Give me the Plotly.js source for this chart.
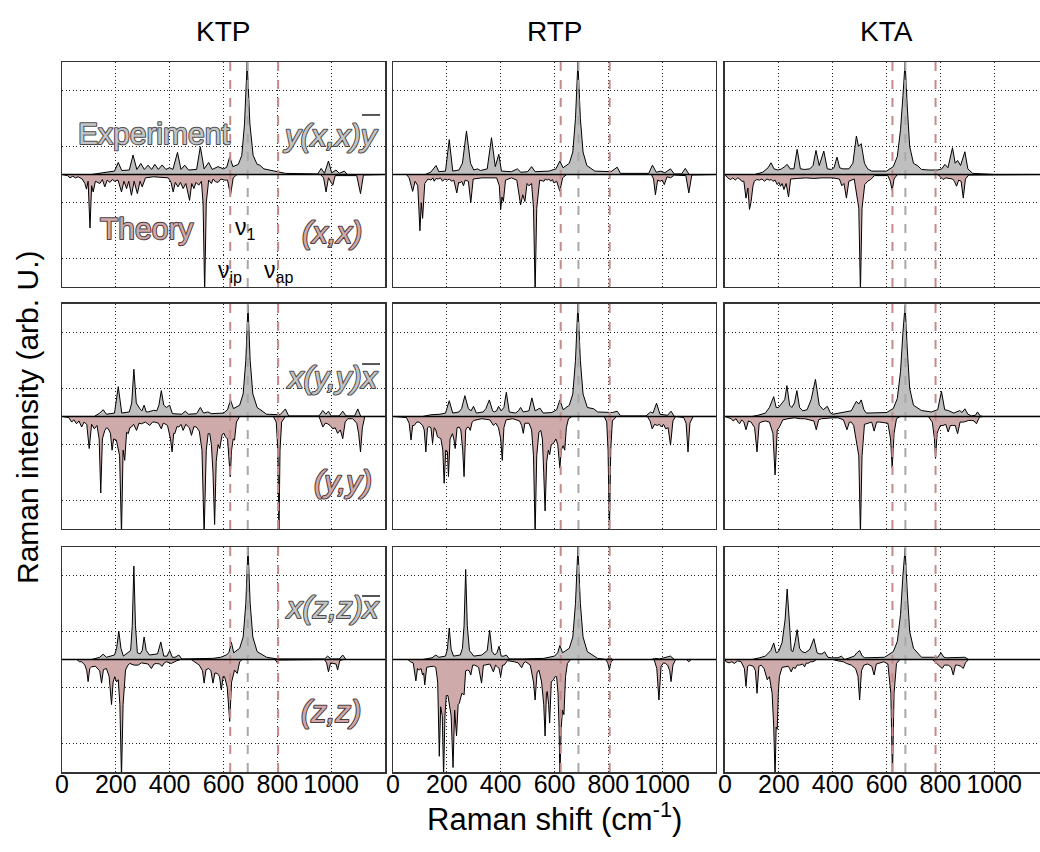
<!DOCTYPE html>
<html>
<head>
<meta charset="utf-8">
<script src="https://cdn.plot.ly/plotly-3.0.1.min.js"></script>
<style>html,body{margin:0;padding:0;background:#fff;}#chart{width:1040px;height:852px;}</style>
</head>
<body>
<div id="chart"></div>
<script>
// ---------------- DATA ----------------
// Spectra as vertex lists: x (Raman shift, cm^-1), y (normalised intensity)
// Experiment is positive, theory is plotted negative.
const MATERIALS = ['KTP', 'RTP', 'KTA'];
const EXP_LABELS = ['y(x,x)y', 'x(y,y)x', 'x(z,z)x'];
const TH_LABELS = ['(x,x)', '(y,y)', '(z,z)'];
const X_TICKS = [0, 200, 400, 600, 800, 1000];
const Y_GRID = [-0.75, -0.25, 0.25, 0.75];
// Mode markers: [nu_ip, nu_1, nu_ap] per material
const NU_KTP = [625, 690, 803];
const NU_RTP = [623, 689, 805];
const NU_KTA = [622, 670, 782];

const KTP_XX_EXP = [0,0, 110,0, 150,0.015, 195,0.03, 209,0.107, 222,0.035, 250,0.04, 264,0.173, 278,0.045, 293,0.098, 306,0.045, 320,0.083, 333,0.045, 345,0.09, 358,0.045, 372,0.085, 386,0.045, 400,0.06, 412,0.045, 429,0.196, 442,0.045, 456,0.083, 470,0.04, 500,0.045, 514,0.247, 528,0.05, 545,0.107, 558,0.045, 580,0.07, 600,0.05, 612,0.065, 623,0.158, 635,0.07, 655,0.09, 668,0.17, 678,0.45, 688,1.0, 698,0.45, 710,0.17, 725,0.09, 735,0.083, 750,0.05, 800,0.025, 830,0.01, 950,0.005, 963,0.054, 975,0.01, 990,0.12, 1002,0.015, 1018,0.04, 1030,0.01, 1049,0.03, 1060,0, 1200,0];
const KTP_XX_TH = [0,0, 20,-0.01, 30,-0.03, 40,-0.015, 50,-0.03, 60,-0.02, 75,-0.04, 85,-0.08, 91,-0.13, 97,-0.06, 104,-0.476, 110,-0.1, 116,-0.155, 124,-0.06, 141,-0.08, 150,-0.045, 159,-0.11, 168,-0.05, 178,-0.07, 187,-0.045, 196,-0.06, 208,-0.05, 221,-0.155, 230,-0.06, 240,-0.125, 248,-0.06, 258,-0.185, 268,-0.06, 280,-0.17, 290,-0.06, 298,-0.11, 310,-0.03, 340,-0.02, 395,-0.03, 405,-0.07, 413,-0.155, 421,-0.07, 431,-0.11, 440,-0.07, 450,-0.125, 460,-0.08, 474,-0.23, 482,-0.08, 490,-0.125, 498,-0.07, 508,-0.095, 518,-0.06, 524,-0.25, 530,-1.05, 536,-0.25, 545,-0.05, 555,-0.08, 562,-0.04, 570,-0.065, 580,-0.07, 590,-0.04, 604,-0.05, 615,-0.05, 626,-0.185, 636,-0.03, 650,0, 960,0, 972,-0.03, 981,-0.155, 990,-0.03, 1006,-0.095, 1015,-0.01, 1095,-0.01, 1109,-0.17, 1120,-0.005, 1200,0];

const RTP_XX_EXP = [0,0, 120,0, 140,0.02, 160,0.08, 170,0.025, 195,0.03, 209,0.31, 222,0.03, 245,0.04, 258,0.1, 273,0.387, 288,0.1, 300,0.04, 314,0.05, 325,0.035, 350,0.05, 366,0.327, 380,0.07, 393,0.18, 403,0.03, 440,0.025, 462,0.05, 475,0.02, 500,0.025, 515,0.07, 528,0.025, 580,0.03, 605,0.05, 620,0.12, 632,0.06, 655,0.1, 668,0.2, 678,0.5, 687,1.0, 696,0.5, 706,0.2, 720,0.08, 750,0.03, 810,0.025, 833,0.065, 845,0.01, 950,0.01, 964,0.083, 978,0.02, 995,0.03, 1010,0.015, 1031,0.05, 1045,0.005, 1072,0.005, 1086,0.054, 1100,0, 1200,0];
const RTP_XX_TH = [0,0, 50,0, 60,-0.03, 73,-0.15, 82,-0.06, 92,-0.1, 100,-0.5, 105,-0.25, 110,-0.39, 118,-0.08, 130,-0.04, 141,-0.05, 148,-0.03, 153,-0.06, 160,-0.035, 168,-0.04, 176,-0.03, 184,-0.06, 192,-0.04, 202,-0.05, 210,-0.04, 217,-0.06, 226,-0.05, 237,-0.164, 244,-0.07, 249,-0.075, 255,-0.06, 262,-0.1, 268,-0.05, 280,-0.06, 289,-0.25, 298,-0.04, 330,-0.03, 385,-0.03, 395,-0.1, 400,-0.31, 405,-0.2, 410,-0.24, 418,-0.05, 440,-0.03, 460,-0.05, 474,-0.27, 482,-0.18, 490,-0.24, 498,-0.08, 505,-0.1, 515,-0.08, 522,-0.3, 528,-1.05, 534,-0.3, 545,-0.05, 561,-0.06, 566,-0.04, 573,-0.05, 579,-0.04, 586,-0.06, 592,-0.045, 598,-0.075, 608,-0.06, 620,-0.15, 630,-0.03, 645,0, 960,0, 968,-0.04, 975,-0.18, 983,-0.05, 993,-0.06, 1000,-0.05, 1008,-0.09, 1018,-0.02, 1031,-0.03, 1045,-0.005, 1088,-0.01, 1099,-0.164, 1110,-0.005, 1200,0];

const KTA_XX_EXP = [0,0, 110,0, 140,0.02, 160,0.06, 171,0.104, 182,0.05, 196,0.04, 210,0.05, 222,0.07, 231,0.09, 242,0.05, 256,0.05, 268,0.223, 280,0.05, 296,0.045, 315,0.05, 327,0.08, 338,0.214, 350,0.08, 367,0.208, 380,0.05, 395,0.045, 405,0.06, 416,0.155, 426,0.06, 438,0.05, 460,0.05, 475,0.1, 488,0.342, 496,0.25, 506,0.274, 518,0.1, 530,0.05, 545,0.03, 600,0.03, 625,0.07, 640,0.16, 652,0.4, 661,0.7, 669,1.0, 677,0.6, 686,0.25, 700,0.1, 717,0.075, 730,0.045, 755,0.04, 790,0.04, 805,0.05, 817,0.09, 828,0.06, 845,0.238, 855,0.1, 864,0.125, 875,0.08, 891,0.202, 902,0.05, 920,0.01, 960,0.005, 1000,0, 1200,0];
const KTA_XX_TH = [0,0, 10,-0.03, 20,-0.045, 29,-0.03, 38,-0.05, 47,-0.03, 55,-0.04, 62,-0.06, 70,-0.06, 78,-0.21, 85,-0.12, 91,-0.31, 97,-0.24, 104,-0.1, 109,-0.06, 118,-0.045, 128,-0.05, 137,-0.04, 147,-0.06, 156,-0.04, 165,-0.05, 172,-0.045, 178,-0.06, 186,-0.05, 194,-0.09, 200,-0.07, 206,-0.105, 212,-0.08, 219,-0.134, 227,-0.08, 236,-0.2, 244,-0.04, 270,-0.035, 300,-0.03, 330,-0.035, 360,-0.03, 400,-0.03, 425,-0.04, 434,-0.1, 442,-0.08, 451,-0.21, 460,-0.06, 480,-0.04, 497,-0.3, 503,-1.05, 509,-0.3, 519,-0.09, 530,-0.06, 541,-0.045, 555,-0.01, 605,-0.01, 614,-0.06, 621,-0.143, 628,-0.04, 640,0, 790,0, 800,-0.02, 810,-0.045, 820,-0.03, 829,-0.035, 845,-0.04, 852,-0.06, 860,-0.104, 868,-0.05, 877,-0.06, 885,-0.21, 893,-0.04, 905,-0.005, 1200,0];

const KTP_YY_EXP = [0,0, 120,0, 140,0.03, 153,0.06, 165,0.02, 195,0.03, 209,0.265, 222,0.03, 250,0.04, 259,0.12, 267,0.42, 276,0.12, 289,0.07, 297,0.05, 305,0.1, 313,0.04, 320,0.04, 332,0.05, 341,0.055, 352,0.05, 360,0.1, 369,0.23, 378,0.1, 388,0.08, 400,0.1, 410,0.025, 445,0.02, 458,0.047, 470,0.02, 500,0.025, 514,0.08, 526,0.03, 542,0.04, 555,0.025, 600,0.03, 615,0.06, 626,0.147, 637,0.07, 660,0.1, 673,0.2, 683,0.5, 691,0.99, 699,0.5, 709,0.2, 725,0.08, 760,0.02, 810,0.015, 830,0.067, 842,0.005, 955,0.005, 969,0.053, 980,0.02, 990,0.047, 1000,0.005, 1030,0.005, 1043,0.047, 1055,0.005, 1087,0.005, 1099,0.067, 1110,0, 1200,0];
const KTP_YY_TH = [0,0, 25,-0.01, 36,-0.05, 44,-0.03, 54,-0.065, 63,-0.04, 73,-0.094, 82,-0.05, 92,-0.07, 101,-0.285, 110,-0.07, 120,-0.11, 130,-0.08, 138,-0.2, 144,-0.68, 150,-0.2, 159,-0.124, 166,-0.1, 172,-0.11, 180,-0.15, 186,-0.3, 192,-0.2, 202,-0.21, 214,-0.35, 221,-1.05, 227,-0.3, 233,-0.39, 240,-0.14, 246,-0.153, 252,-0.1, 258,-0.094, 266,-0.07, 277,-0.124, 286,-0.06, 295,-0.065, 310,-0.05, 326,-0.08, 336,-0.05, 345,-0.05, 358,-0.06, 369,-0.11, 376,-0.06, 382,-0.065, 392,-0.08, 403,-0.2, 409,-0.315, 415,-0.15, 419,-0.153, 427,-0.09, 434,-0.094, 442,-0.07, 450,-0.124, 460,-0.07, 473,-0.1, 481,-0.168, 490,-0.09, 499,-0.094, 510,-0.13, 520,-0.3, 528,-1.05, 536,-0.3, 543,-0.153, 549,-0.153, 555,-0.25, 561,-0.5, 567,-0.96, 573,-0.4, 580,-0.25, 586,-0.285, 595,-0.16, 602,-0.15, 607,-0.18, 615,-0.2, 620,-0.35, 625,-0.535, 630,-0.3, 636,-0.2, 641,-0.21, 648,-0.05, 660,0, 785,0, 796,-0.05, 802,-0.3, 806,-1.05, 810,-0.3, 816,-0.05, 830,0, 955,0, 962,-0.05, 969,-0.094, 978,-0.06, 987,-0.065, 996,-0.08, 1006,-0.11, 1015,-0.1, 1024,-0.15, 1034,-0.12, 1043,-0.197, 1052,-0.05, 1062,-0.02, 1080,-0.02, 1095,-0.06, 1102,-0.15, 1109,-0.315, 1116,-0.1, 1125,0, 1200,0];

const RTP_YY_EXP = [0,0, 110,0, 141,0.015, 175,0.02, 195,0.03, 209,0.14, 222,0.03, 245,0.04, 255,0.07, 267,0.185, 280,0.07, 290,0.05, 299,0.09, 310,0.03, 335,0.04, 345,0.07, 358,0.147, 370,0.05, 376,0.04, 385,0.05, 392,0.09, 402,0.05, 412,0.08, 421,0.215, 432,0.04, 455,0.03, 466,0.05, 474,0.08, 484,0.04, 505,0.05, 516,0.165, 528,0.05, 546,0.074, 558,0.03, 590,0.035, 608,0.06, 620,0.147, 632,0.06, 655,0.1, 668,0.2, 678,0.5, 687,1.0, 696,0.5, 706,0.2, 722,0.08, 746,0.068, 760,0.04, 815,0.035, 833,0.047, 845,0.005, 940,0.005, 957,0.04, 966,0.03, 979,0.118, 992,0.02, 1020,0.01, 1033,0.047, 1045,0, 1200,0];
const RTP_YY_TH = [0,0, 50,-0.01, 60,-0.06, 67,-0.21, 73,-0.08, 79,-0.08, 88,-0.05, 97,-0.05, 110,-0.08, 116,-0.12, 122,-0.315, 128,-0.1, 134,-0.09, 141,-0.1, 147,-0.24, 153,-0.1, 159,-0.12, 165,-0.18, 172,-0.19, 178,-0.197, 185,-0.3, 190,-0.594, 196,-0.3, 202,-0.31, 206,-0.535, 212,-0.2, 221,-0.153, 226,-0.2, 231,-0.285, 238,-0.1, 246,-0.094, 252,-0.12, 259,-0.3, 264,-0.535, 270,-0.12, 277,-0.094, 283,-0.1, 287,-0.124, 294,-0.05, 301,-0.035, 330,-0.02, 360,-0.03, 373,-0.08, 382,-0.06, 392,-0.1, 400,-0.2, 406,-0.39, 412,-0.1, 420,-0.03, 445,-0.02, 470,-0.04, 478,-0.08, 484,-0.15, 490,-0.06, 505,-0.06, 515,-0.12, 522,-0.35, 528,-1.05, 534,-0.35, 542,-0.14, 549,-0.124, 555,-0.2, 560,-0.5, 565,-0.84, 571,-0.4, 577,-0.3, 582,-0.34, 588,-0.25, 596,-0.24, 605,-0.2, 612,-0.25, 616,-0.35, 620,-0.46, 625,-0.3, 632,-0.26, 638,-0.3, 644,-0.1, 652,-0.02, 665,0, 785,0, 794,-0.05, 799,-0.3, 804,-1.05, 809,-0.3, 815,-0.04, 830,0, 945,0, 955,-0.04, 963,-0.11, 972,-0.07, 982,-0.08, 990,-0.07, 997,-0.094, 1005,-0.07, 1013,-0.11, 1022,-0.1, 1031,-0.255, 1040,-0.04, 1050,0, 1080,-0.01, 1089,-0.06, 1096,-0.315, 1103,-0.06, 1115,0, 1200,0];

const KTA_YY_EXP = [0,0, 100,0, 122,0.01, 150,0.03, 165,0.08, 181,0.176, 190,0.08, 199,0.08, 212,0.12, 222,0.15, 230,0.274, 240,0.1, 248,0.08, 258,0.12, 267,0.23, 277,0.08, 289,0.05, 305,0.06, 320,0.15, 336,0.33, 350,0.1, 365,0.06, 380,0.09, 392,0.03, 401,0.02, 444,0.04, 469,0.05, 480,0.1, 488,0.135, 497,0.11, 506,0.147, 516,0.06, 525,0.03, 600,0.035, 625,0.07, 640,0.16, 652,0.4, 661,0.75, 669,0.99, 677,0.6, 686,0.25, 700,0.1, 730,0.053, 767,0.04, 790,0.06, 804,0.223, 816,0.06, 829,0.053, 850,0.03, 872,0.053, 880,0.035, 891,0.068, 902,0.02, 916,0.005, 930,0.01, 938,0.04, 948,0.005, 960,0, 1200,0];
const KTA_YY_TH = [0,0, 10,-0.01, 23,-0.02, 30,-0.04, 41,-0.02, 48,-0.05, 54,-0.065, 62,-0.03, 70,-0.05, 78,-0.118, 87,-0.04, 97,-0.05, 110,-0.1, 119,-0.315, 127,-0.06, 134,-0.05, 150,-0.04, 165,-0.05, 178,-0.15, 186,-0.52, 194,-0.12, 202,-0.094, 215,-0.03, 234,-0.02, 258,-0.012, 280,-0.02, 296,-0.02, 330,-0.04, 339,-0.118, 348,-0.03, 358,-0.02, 401,-0.012, 420,-0.012, 440,-0.03, 453,-0.118, 462,-0.05, 469,-0.05, 478,-0.08, 497,-0.35, 503,-1.05, 509,-0.35, 518,-0.07, 525,-0.065, 545,-0.05, 554,-0.13, 563,-0.05, 575,-0.05, 605,-0.06, 615,-0.2, 621,-0.46, 628,-0.15, 637,-0.02, 650,0, 755,0, 770,-0.05, 778,-0.2, 782,-0.373, 788,-0.15, 792,-0.124, 800,-0.08, 810,-0.08, 820,-0.07, 829,-0.138, 837,-0.08, 845,-0.08, 855,-0.08, 864,-0.153, 873,-0.05, 887,-0.05, 905,-0.035, 916,-0.035, 925,-0.04, 934,-0.065, 945,-0.005, 960,0, 1200,0];

const KTP_ZZ_EXP = [0,0, 110,0, 140,0.02, 153,0.047, 165,0.02, 195,0.04, 203,0.1, 211,0.253, 219,0.1, 228,0.03, 255,0.08, 261,0.3, 267,0.83, 273,0.3, 280,0.06, 290,0.05, 298,0.08, 305,0.2, 313,0.08, 325,0.04, 355,0.05, 367,0.156, 378,0.03, 390,0.03, 400,0.08, 410,0.02, 420,0.02, 434,0.04, 445,0.005, 520,0.005, 560,0.01, 590,0.02, 610,0.04, 620,0.06, 629,0.156, 638,0.06, 660,0.1, 673,0.2, 683,0.5, 691,1.0, 699,0.5, 709,0.2, 725,0.07, 760,0.02, 800,0.005, 975,0.005, 987,0.03, 1000,0.005, 1030,0.005, 1043,0.04, 1055,0, 1200,0];
const KTP_ZZ_TH = [0,0, 55,0, 65,-0.02, 73,-0.02, 85,-0.05, 92,-0.1, 97,-0.197, 103,-0.08, 110,-0.065, 116,-0.065, 124,-0.06, 140,-0.1, 147,-0.21, 154,-0.09, 165,-0.08, 175,-0.15, 184,-0.4, 190,-0.2, 196,-0.153, 203,-0.2, 209,-0.18, 215,-0.4, 221,-1.05, 227,-0.4, 236,-0.094, 245,-0.05, 252,-0.035, 268,-0.05, 283,-0.05, 295,-0.03, 305,-0.035, 320,-0.04, 332,-0.08, 342,-0.04, 351,-0.035, 362,-0.04, 372,-0.06, 380,-0.03, 388,-0.02, 406,-0.035, 425,-0.012, 440,0, 480,0, 493,-0.02, 510,-0.05, 522,-0.1, 528,-0.21, 535,-0.09, 545,-0.08, 553,-0.1, 561,-0.21, 568,-0.12, 577,-0.124, 585,-0.15, 592,-0.27, 599,-0.15, 604,-0.153, 614,-0.25, 623,-0.55, 630,-0.2, 641,-0.094, 651,-0.124, 660,-0.02, 670,0, 790,0, 795,-0.01, 800,-0.03, 805,-0.005, 975,0, 983,-0.03, 990,-0.11, 998,-0.03, 1010,-0.035, 1018,-0.04, 1024,-0.094, 1032,-0.01, 1045,0, 1200,0];

const RTP_ZZ_EXP = [0,0, 110,0, 145,0.015, 159,0.04, 170,0.02, 195,0.03, 202,0.09, 209,0.28, 216,0.09, 225,0.03, 250,0.04, 258,0.1, 264,0.3, 270,0.8, 276,0.3, 284,0.08, 300,0.03, 330,0.04, 350,0.08, 359,0.26, 368,0.07, 378,0.04, 386,0.06, 394,0.118, 402,0.03, 412,0.03, 421,0.04, 432,0.005, 480,0.005, 560,0.01, 600,0.03, 612,0.06, 620,0.126, 630,0.06, 655,0.1, 668,0.2, 678,0.5, 687,1.0, 696,0.5, 706,0.2, 722,0.07, 760,0.01, 795,0, 804,0.02, 815,0, 960,0, 975,0.01, 990,0.005, 1031,0.03, 1045,0, 1200,0];
const RTP_ZZ_TH = [0,0, 55,0, 65,-0.02, 75,-0.03, 85,-0.19, 91,-0.08, 97,-0.094, 104,-0.08, 110,-0.138, 114,-0.12, 118,-0.226, 125,-0.07, 134,-0.065, 150,-0.06, 159,-0.07, 166,-0.2, 172,-0.86, 177,-0.42, 183,-0.5, 188,-1.05, 193,-0.5, 198,-0.32, 204,-0.32, 209,-0.4, 216,-0.5, 223,-0.96, 229,-0.45, 236,-0.68, 242,-0.4, 246,-0.39, 256,-0.3, 264,-0.315, 270,-0.1, 277,-0.094, 283,-0.1, 289,-0.138, 296,-0.05, 304,-0.05, 318,-0.07, 329,-0.21, 336,-0.05, 341,-0.05, 360,-0.04, 373,-0.11, 381,-0.05, 388,-0.065, 394,-0.08, 400,-0.153, 407,-0.05, 413,-0.05, 425,-0.01, 450,-0.02, 465,-0.03, 478,-0.073, 486,-0.03, 493,-0.02, 510,-0.05, 522,-0.2, 528,-0.36, 535,-0.12, 542,-0.094, 552,-0.2, 560,-0.4, 565,-0.68, 570,-0.3, 573,-0.285, 578,-0.4, 582,-0.565, 588,-0.2, 596,-0.18, 603,-0.15, 608,-0.153, 613,-0.3, 617,-0.6, 620,-1.05, 625,-0.6, 630,-0.45, 635,-0.49, 641,-0.15, 648,-0.035, 660,0, 790,0, 798,-0.03, 804,-0.094, 810,-0.02, 820,0, 970,0, 980,-0.08, 988,-0.36, 996,-0.06, 1005,-0.03, 1012,-0.035, 1020,-0.05, 1028,-0.1, 1033,-0.197, 1040,-0.05, 1050,0, 1090,0, 1099,-0.02, 1108,0, 1200,0];

const KTA_ZZ_EXP = [0,0, 100,0, 128,0.015, 150,0.03, 170,0.08, 181,0.147, 190,0.06, 199,0.07, 212,0.15, 223,0.35, 231,0.626, 239,0.3, 246,0.08, 252,0.07, 260,0.15, 268,0.265, 277,0.1, 286,0.07, 298,0.06, 315,0.09, 330,0.185, 342,0.06, 351,0.05, 360,0.05, 370,0.068, 382,0.02, 395,0.015, 420,0.015, 432,0.03, 445,0, 451,0.005, 480,0.03, 490,0.06, 500,0.08, 510,0.03, 519,0.015, 593,0.02, 625,0.07, 640,0.16, 652,0.4, 661,0.75, 669,0.99, 677,0.6, 686,0.25, 700,0.1, 730,0.02, 774,0.02, 790,0.02, 802,0.06, 813,0.02, 823,0.015, 848,0.015, 870,0.015, 891,0.02, 905,0, 1200,0];
const KTA_ZZ_TH = [0,0, 4,-0.02, 15,-0.03, 25,-0.02, 35,-0.035, 41,-0.02, 47,-0.012, 60,-0.02, 72,-0.08, 78,-0.24, 84,-0.06, 91,-0.05, 105,-0.06, 113,-0.1, 119,-0.3, 126,-0.06, 134,-0.05, 145,-0.08, 150,-0.12, 157,-0.18, 165,-0.153, 175,-0.3, 181,-0.6, 186,-1.05, 190,-0.6, 194,-0.62, 198,-0.3, 202,-0.153, 212,-0.07, 221,-0.065, 235,-0.06, 240,-0.08, 246,-0.11, 253,-0.07, 261,-0.08, 268,-0.05, 277,-0.05, 288,-0.04, 296,-0.065, 302,-0.03, 308,-0.035, 318,-0.02, 327,-0.02, 340,0, 400,0, 420,-0.012, 440,-0.02, 451,-0.035, 469,-0.05, 485,-0.08, 494,-0.15, 500,-0.36, 507,-0.1, 516,-0.05, 530,-0.04, 545,-0.06, 554,-0.138, 562,-0.04, 569,-0.035, 590,-0.02, 605,-0.04, 616,-0.3, 622,-1.05, 628,-0.3, 637,-0.035, 650,0, 770,0, 779,-0.02, 792,-0.05, 800,-0.06, 807,-0.08, 815,-0.05, 829,-0.05, 840,-0.07, 848,-0.138, 856,-0.05, 864,-0.05, 876,-0.06, 885,-0.08, 893,-0.03, 905,0, 1200,0];

// ---------------- BUILD ----------------
const EXP = [[KTP_XX_EXP, RTP_XX_EXP, KTA_XX_EXP], [KTP_YY_EXP, RTP_YY_EXP, KTA_YY_EXP], [KTP_ZZ_EXP, RTP_ZZ_EXP, KTA_ZZ_EXP]];
const TH = [[KTP_XX_TH, RTP_XX_TH, KTA_XX_TH], [KTP_YY_TH, RTP_YY_TH, KTA_YY_TH], [KTP_ZZ_TH, RTP_ZZ_TH, KTA_ZZ_TH]];
const NU = [NU_KTP, NU_RTP, NU_KTA];

function split(a) { const x = [], y = []; for (let i = 0; i < a.length; i += 2) { x.push(a[i]); y.push(a[i + 1]); } return { x, y }; }

const FONT = 'Liberation Sans, Arial, sans-serif';
const EXP_FILL = '#bfbfbf';
const TH_FILL = '#cfaaaa';
const RED = '#c48b8b';
const GREY = '#a8a8a8';
const EXP_TEXT = '#c4c4c4', EXP_EDGE = '#4a4a4a';
const TH_TEXT = '#cfa8a8', TH_EDGE = '#4a3a3a';

const colDom = [[0, 0.33027], [0.33845, 0.66871], [0.67791, 1]];
const rowDom = [[0.6831, 1], [0.3423, 0.6592], [0, 0.3169]];
const colRange = [[0, 1200], [0, 1200], [0, 1170]];
const colCenter = [0.16513, 0.50358, 0.84305];

const traces = [];
const layout = {
  width: 1040, height: 852,
  margin: { l: 62, r: 0, t: 62, b: 80 },
  paper_bgcolor: '#fff', plot_bgcolor: '#fff',
  showlegend: false,
  font: { family: FONT, color: '#000' },
  shapes: [], annotations: []
};

for (let r = 0; r < 3; r++) {
  for (let c = 0; c < 3; c++) {
    const i = r * 3 + c + 1;
    const xa = 'x' + (i === 1 ? '' : i), ya = 'y' + (i === 1 ? '' : i);
    const xk = 'xaxis' + (i === 1 ? '' : i), yk = 'yaxis' + (i === 1 ? '' : i);
    layout[xk] = {
      domain: colDom[c], range: colRange[c], anchor: ya,
      tickmode: 'array', tickvals: X_TICKS, ticktext: X_TICKS.map(String),
      showticklabels: r === 2, ticks: '', tickangle: 0, ticklabelstandoff: -11,
      tickfont: { size: 25, family: FONT, color: '#000' },
      showgrid: true, gridcolor: '#222', griddash: '1px,2.5px', gridwidth: 1,
      zeroline: false, showline: true, mirror: true, linecolor: '#333', linewidth: 1.5,
      fixedrange: true
    };
    layout[yk] = {
      domain: rowDom[r], range: [-1, 1], anchor: xa,
      tickmode: 'array', tickvals: Y_GRID, showticklabels: false, ticks: '',
      showgrid: true, gridcolor: '#222', griddash: '1px,2.5px', gridwidth: 1,
      zeroline: false, showline: true, mirror: true, linecolor: '#333', linewidth: 1.5,
      fixedrange: true
    };
    const e = split(EXP[r][c]);
    const t = split(TH[r][c]);
    traces.push({ type: 'scatter', mode: 'lines', x: e.x, y: e.y, xaxis: xa, yaxis: ya, fill: 'tozeroy', fillcolor: EXP_FILL, line: { color: '#000', width: 1 }, hoverinfo: 'skip' });
    traces.push({ type: 'scatter', mode: 'lines', x: t.x, y: t.y, xaxis: xa, yaxis: ya, fill: 'tozeroy', fillcolor: TH_FILL, line: { color: '#000', width: 1 }, hoverinfo: 'skip' });
    NU[c].forEach((v, k) => {
      layout.shapes.push({ type: 'line', xref: xa, yref: ya + ' domain', x0: v, x1: v, y0: 0, y1: 1, layer: 'above', line: { color: k === 1 ? GREY : RED, width: 2, dash: 'dash' } });
    });
    layout.shapes.push({ type: 'line', xref: xa + ' domain', yref: ya, x0: 0, x1: 1, y0: 0, y1: 0, layer: 'above', line: { color: '#000', width: 1.5 } });
  }
}

MATERIALS.forEach((m, c) => {
  layout.annotations.push({ text: m, xref: 'paper', yref: 'paper', x: colCenter[c], y: 1.0423, xanchor: 'center', yanchor: 'middle', showarrow: false, font: { size: 28, family: FONT, color: '#000' } });
});
layout.annotations.push({ text: 'Raman shift (cm<sup>-1</sup>)', xref: 'paper', yref: 'paper', x: 0.504, y: -0.0634, xanchor: 'center', yanchor: 'middle', showarrow: false, font: { size: 31, family: FONT, color: '#000' } });
layout.annotations.push({ text: 'Raman intensity (arb. U.)', xref: 'paper', yref: 'paper', x: -0.0358, y: 0.5, xanchor: 'center', yanchor: 'middle', textangle: -90, showarrow: false, font: { size: 30, family: FONT, color: '#000' } });

const OUTLINED = {};
const lab = (text, xr, yr, x, y, size, color, edge, italic) => {
  OUTLINED[text] = edge;
  layout.annotations.push({ text, xref: xr + ' domain', yref: yr + ' domain', x, y, xanchor: 'center', yanchor: 'middle', showarrow: false, font: { size, family: FONT, color, style: italic ? 'italic' : 'normal' } });
};
lab('Experiment', 'x', 'y', 0.285, 0.684, 30, EXP_TEXT, EXP_EDGE, false);
lab('Theory', 'x', 'y', 0.263, 0.262, 30, TH_TEXT, TH_EDGE, false);
lab(EXP_LABELS[0], 'x', 'y', 0.834, 0.673, 31, EXP_TEXT, EXP_EDGE, true);
lab(TH_LABELS[0], 'x', 'y', 0.836, 0.244, 31, TH_TEXT, TH_EDGE, true);
lab(EXP_LABELS[1], 'x4', 'y4', 0.836, 0.673, 31, EXP_TEXT, EXP_EDGE, true);
lab(TH_LABELS[1], 'x4', 'y4', 0.87, 0.209, 31, TH_TEXT, TH_EDGE, true);
lab(EXP_LABELS[2], 'x7', 'y7', 0.836, 0.733, 31, EXP_TEXT, EXP_EDGE, true);
lab(TH_LABELS[2], 'x7', 'y7', 0.833, 0.267, 31, TH_TEXT, TH_EDGE, true);
// overlines on the last letter of the experimental geometry labels
[0.9254, 0.5746, 0.2479].forEach((py) => {
  layout.shapes.push({ type: 'line', xref: 'paper', yref: 'paper', x0: 0.3068, x1: 0.3252, y0: py, y1: py, layer: 'above', line: { color: '#555', width: 2 } });
});
const nu = (text, x, y) => layout.annotations.push({ text, xref: 'x domain', yref: 'y domain', x, y, xanchor: 'center', yanchor: 'middle', showarrow: false, font: { size: 23, family: FONT, color: '#000' } });
nu('ν<sub>1</sub>', 0.567, 0.262);
nu('ν<sub>ip</sub>', 0.52, 0.067);
nu('ν<sub>ap</sub>', 0.669, 0.067);

Plotly.newPlot('chart', traces, layout, { staticPlot: true, displayModeBar: false }).then(() => {
  document.querySelectorAll('.annotation-text').forEach((el) => {
    const edge = OUTLINED[el.textContent];
    if (edge) {
      el.style.stroke = edge;
      el.style.strokeWidth = '2px';
      el.style.paintOrder = 'stroke';
      el.style.strokeLinejoin = 'round';
      el.style.opacity = '0.99';
      el.style.textRendering = 'geometricPrecision';
    }
  });
});
</script>
</body>
</html>
